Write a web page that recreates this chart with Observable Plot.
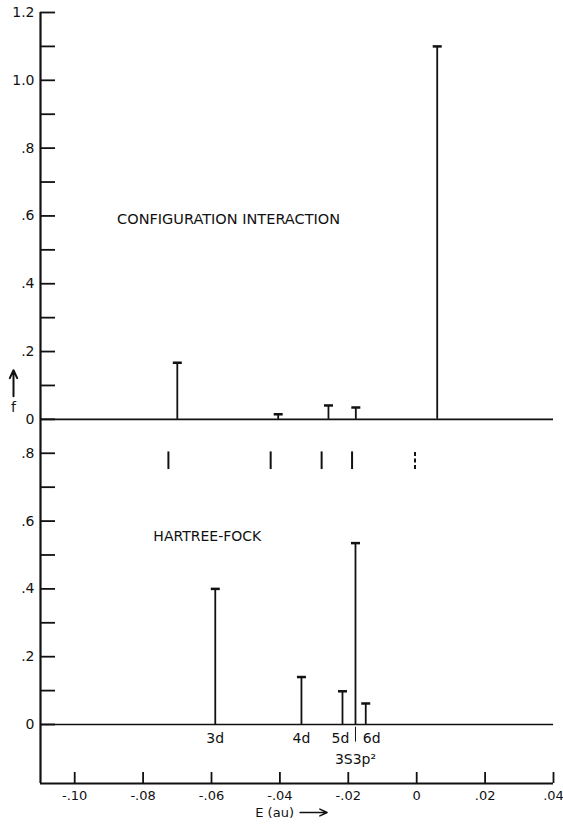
<!DOCTYPE html>
<html><head><meta charset="utf-8">
<script src="https://cdn.jsdelivr.net/npm/d3@7"></script>
<script src="https://cdn.jsdelivr.net/npm/@observablehq/plot@0.6"></script>
<style>body{margin:0;background:#fff} svg{display:block}</style>
</head><body><div id="chart"></div>
<script>
// Configuration interaction (top panel)
const ciEnergy = [-0.070, -0.0405, -0.0258, -0.0178, 0.006];
const ciF = [0.167, 0.015, 0.041, 0.035, 1.10];
// Hartree-Fock (bottom panel)
const hfEnergy = [-0.0589, -0.0337, -0.0217, -0.0179, -0.0149];
const hfF = [0.40, 0.14, 0.098, 0.535, 0.062];
const hfLabels = ["3d", "4d", "5d", "3S3p²", "6d"];
// level markers between the panels
const markerEnergy = [-0.0726, -0.0427, -0.0278, -0.0189, -0.0005];
const markerDashed = [false, false, false, false, true];
const markerRange = [0.752, 0.804];
// axes
const xTicks = [-0.10, -0.08, -0.06, -0.04, -0.02, 0, 0.02, 0.04];
const yTicksTop = [0, 0.1, 0.2, 0.3, 0.4, 0.5, 0.6, 0.7, 0.8, 0.9, 1.0, 1.1, 1.2];
const yLabelsTop = [0, 0.2, 0.4, 0.6, 0.8, 1.0, 1.2];
const yTicksBottom = [0, 0.1, 0.2, 0.3, 0.4, 0.5, 0.6, 0.7, 0.8];
const yLabelsBottom = [0, 0.2, 0.4, 0.6, 0.8];
const offset = 0.9; // the top panel's zero sits at 0.9 of the bottom panel
const xDomain = [-0.11, 0.04];
const yDomain = [-0.174, 2.1];

const fmtY = v => v === 0 ? "0" : (v >= 1 ? v.toFixed(1) : v.toFixed(1).replace(/^0/, ""));
const fmtX = v => Math.abs(v) < 1e-9 ? "0" : (v < 0 ? "-" : "") + Math.abs(v).toFixed(2).replace(/^0/, "");

const ci = ciEnergy.map((e, i) => ({e, f: ciF[i], base: offset, top: ciF[i] + offset}));
const hf = hfEnergy.map((e, i) => ({e, f: hfF[i], base: 0, top: hfF[i], label: hfLabels[i]}));
const markers = markerEnergy.map((e, i) => ({e, dashed: markerDashed[i]}));
const yTickRows = [...yTicksBottom, ...yTicksTop.map(v => v + offset)];
const yLabelRows = [
  ...yLabelsBottom.map(v => ({y: v, label: fmtY(v)})),
  ...yLabelsTop.map(v => ({y: v + offset, label: fmtY(v)}))
];

const capSymbol = {draw(ctx, size) { const w = Math.sqrt(size / Math.PI); ctx.moveTo(-w, 0); ctx.lineTo(w, 0); }};

const W = 563, H = 829, mL = 40, mR = 10, mT = 12, mB = 46;
const ink = "#111";
const byLabel = l => hf.filter(d => d.label === l);

const chart = Plot.plot({
  width: W, height: H,
  marginLeft: mL, marginRight: mR, marginTop: mT, marginBottom: mB,
  x: {domain: xDomain},
  y: {domain: yDomain, axis: null},
  style: {fontFamily: "DejaVu Sans", fontSize: "14px", color: ink, background: "#fff"},
  marks: [
    // frame lines
    Plot.ruleX([xDomain[0]], {stroke: ink, strokeWidth: 2.2}),
    Plot.ruleY([yDomain[0]], {stroke: ink, strokeWidth: 2.2}),
    Plot.ruleY([0, offset], {stroke: ink, strokeWidth: 1.6}),
    // inward ticks
    Plot.tickY(yTickRows, {y: d => d, stroke: ink, strokeWidth: 1.8, insetRight: W - mL - mR - 15}),
    Plot.tickX(xTicks, {x: d => d, stroke: ink, strokeWidth: 1.8, insetTop: H - mT - mB - 11}),
    Plot.axisX(xTicks, {tickSize: 0, tickPadding: 7, tickFormat: fmtX, label: null, fontSize: 13}),
    Plot.text(yLabelRows, {x: xDomain[0], y: "y", text: "label", textAnchor: "end", dx: -6, fontSize: 14}),
    // CI stems
    Plot.ruleX(ci, {x: "e", y1: "base", y2: "top", stroke: ink, strokeWidth: 1.8}),
    Plot.dot(ci, {x: "e", y: "top", symbol: capSymbol, r: 4.5, stroke: ink, strokeWidth: 2.5, fill: "none"}),
    // HF stems
    Plot.ruleX(hf, {x: "e", y1: "base", y2: "top", stroke: ink, strokeWidth: 1.8}),
    Plot.dot(hf, {x: "e", y: "top", symbol: capSymbol, r: 4.5, stroke: ink, strokeWidth: 2.5, fill: "none"}),
    // markers
    Plot.ruleX(markers.filter(d => !d.dashed), {x: "e", y1: markerRange[0], y2: markerRange[1], stroke: ink, strokeWidth: 2}),
    Plot.ruleX(markers.filter(d => d.dashed), {x: "e", y1: markerRange[0], y2: markerRange[1], stroke: ink, strokeWidth: 2, strokeDasharray: "4,2.5"}),
    // level labels
    Plot.text([...byLabel("3d"), ...byLabel("4d")], {x: "e", y: 0, text: "label", dy: 14, fontSize: 14}),
    Plot.text(byLabel("5d"), {x: "e", y: 0, text: "label", dy: 14, dx: -2, fontSize: 14}),
    Plot.text(byLabel("6d"), {x: "e", y: 0, text: "label", dy: 14, dx: 6, fontSize: 14}),
    Plot.text(byLabel("3S3p²"), {x: "e", y: 0, text: "label", dy: 35, fontSize: 14}),
    Plot.ruleX(byLabel("3S3p²"), {x: "e", y1: -0.008, y2: -0.052, stroke: ink, strokeWidth: 1}),
    // panel titles
    Plot.text(["CONFIGURATION INTERACTION"], {x: -0.0876, y: offset + 0.59, text: d => d, textAnchor: "start", fontSize: 14.5}),
    Plot.text(["HARTREE-FOCK"], {x: -0.0770, y: 0.553, text: d => d, textAnchor: "start", fontSize: 14}),
    // axis labels
    Plot.arrow([{x: xDomain[0]}], {x: "x", y1: offset + 0.068, y2: offset + 0.145, dx: -27, stroke: ink, strokeWidth: 2, headLength: 9, headAngle: 50}),
    Plot.text(["f"], {x: xDomain[0], y: offset + 0.035, text: d => d, dx: -27, fontSize: 14}),
    Plot.text(["E (au)"], {x: -0.0472, y: yDomain[0], text: d => d, textAnchor: "start", dy: 29, fontSize: 13}),
    Plot.arrow([{a: -0.0341, b: -0.0262}], {x1: "a", x2: "b", y: yDomain[0], dy: 29, stroke: ink, strokeWidth: 1.5, headLength: 8, headAngle: 50})
  ]
});
document.getElementById("chart").appendChild(chart);
</script>
</body></html>
